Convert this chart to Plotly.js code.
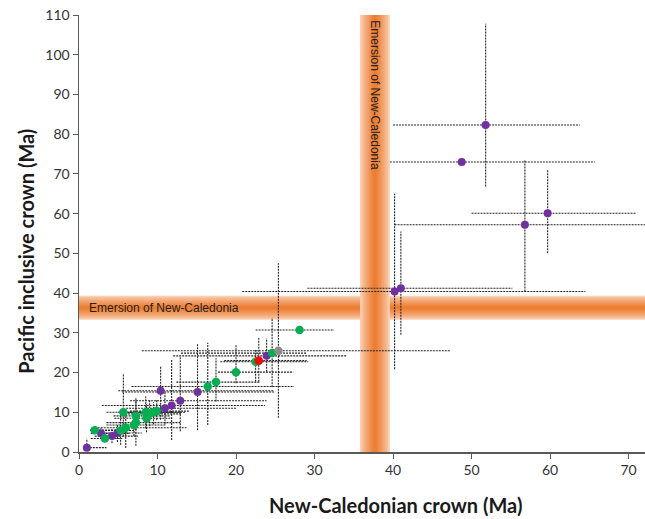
<!DOCTYPE html>
<html>
<head>
<meta charset="utf-8">
<script src="https://cdn.plot.ly/plotly-3.0.1.min.js"></script>
<style>html,body{margin:0;padding:0;background:#fff;}#chart{width:645px;height:519px;}</style>
</head>
<body>
<div id="chart"></div>
<script>
// ---- Data (ages in Ma) ----
const xTicks = [0, 10, 20, 30, 40, 50, 60, 70];
const yTicks = [0, 10, 20, 30, 40, 50, 60, 70, 80, 90, 100, 110];

const purpleX   = [1.0, 2.8, 4.2, 4.9, 10.4, 10.95, 11.8, 12.9, 15.1, 23.9, 40.2, 41.0, 48.75, 51.8, 56.8, 59.7];
const purpleY   = [1.1, 4.7, 4.0, 4.8, 15.4, 11.0, 11.7, 12.9, 15.1, 24.2, 40.4, 41.2, 73.0, 82.3, 57.2, 60.1];
const purpleXlo = [1.0, 1.5, 2.0, 2.5, 5.0, 6.0, 2.9, 6.5, 5.5, 12.0, 20.8, 29.1, 39.6, 40.0, 40.2, 50.0];
const purpleXhi = [3.5, 6.5, 7.5, 8.0, 24.8, 20.0, 23.7, 23.9, 25.0, 34.1, 64.5, 55.2, 65.7, 63.8, 72.5, 70.9];
const purpleYlo = [1.1, 3.5, 2.2, 2.5, 8.1, 7.0, 3.0, 5.2, 5.5, 20.2, 20.8, 29.5, null, 66.8, 40.4, 50.0];
const purpleYhi = [3.4, 6.0, 6.0, 7.0, 21.5, 15.0, 23.4, 24.0, 27.4, 28.6, 65.0, 55.5, null, 107.8, 73.5, 71.0];

const greenX   = [2.0, 3.3, 5.3, 5.65, 5.95, 7.0, 7.25, 7.25, 8.5, 8.6, 9.0, 9.5, 9.9, 16.4, 17.45, 20.0, 22.5, 24.6, 28.1];
const greenY   = [5.5, 3.4, 5.4, 10.0, 6.1, 6.8, 7.4, 9.1, 10.0, 8.5, 9.6, 10.0, 10.3, 16.5, 17.6, 20.1, 22.7, 24.9, 30.7];
const greenXlo = [1.4, 1.5, 1.4, 3.5, 2.0, 3.5, 3.5, 4.4, 5.0, 4.5, 5.5, 6.0, 6.5, 6.7, 12.4, 17.7, 18.0, 13.0, 22.5];
const greenXhi = [6.5, 5.5, 7.1, 12.9, 13.7, 11.0, 12.9, 11.6, 12.0, 11.8, 13.0, 13.5, 14.0, 27.4, 23.1, 27.3, 29.2, 29.0, 32.5];
const greenYlo = [4.5, 2.5, 1.8, 3.9, 1.0, 4.0, 1.6, 5.5, 6.0, 5.0, 6.5, 7.0, 8.0, 6.8, 12.7, 17.3, 17.7, 16.3, null];
const greenYhi = [6.5, 4.5, 10.5, 19.8, 9.0, 9.0, 13.1, 13.5, 14.0, 12.0, 13.0, 12.5, 13.0, 27.5, 23.6, 27.0, 25.7, 33.8, null];

const redX = [22.9], redY = [23.0], redXlo = [18.5], redXhi = [29.0], redYlo = [17.7], redYhi = [29.0];
const grayX = [25.4], grayY = [25.5], grayXlo = [8.0], grayXhi = [47.3], grayYlo = [8.6], grayYhi = [47.5];

// Emersion of New-Caledonia window
const emersionMa = [35.8, 39.6];     // on x
const emersionMaY = [33.3, 39.3];    // on y
const xMax = 72.1, yMax = 110, bandTop = 110.4;

// ---- build dotted error segments ----
const groups = [
  [purpleX, purpleY, purpleXlo, purpleXhi, purpleYlo, purpleYhi],
  [greenX, greenY, greenXlo, greenXhi, greenYlo, greenYhi],
  [redX, redY, redXlo, redXhi, redYlo, redYhi],
  [grayX, grayY, grayXlo, grayXhi, grayYlo, grayYhi]
];
const segX = [], segY = [];
groups.forEach(g => {
  const [X, Y, XL, XH, YL, YH] = g;
  for (let i = 0; i < X.length; i++) {
    if (XL[i] !== null && XH[i] !== null) { segX.push(XL[i], XH[i], null); segY.push(Y[i], Y[i], null); }
    if (YL[i] !== null && YH[i] !== null) { segX.push(X[i], X[i], null); segY.push(YL[i], YH[i], null); }
  }
});

const errTrace = {
  x: segX, y: segY, mode: 'lines', type: 'scatter', hoverinfo: 'skip', showlegend: false,
  line: {color: '#262626', width: 1.1, dash: '2px,1px'}
};
function pts(X, Y, c, s) {
  return {x: X, y: Y, mode: 'markers', type: 'scatter', showlegend: false,
    marker: {color: c, size: s, line: {width: 0}}};
}

// ---- gradient bands via stacked rects ----
const edge = [249, 208, 180], mid = [237, 125, 49];
const nSteps = 10;
const shades = [];
for (let k = 0; k < nSteps; k++) {
  const f = 1 - k / nSteps;               // relative half-width
  const t = Math.pow(k / (nSteps - 1), 0.8); // colour mix
  const c = edge.map((e, j) => Math.round(e + (mid[j] - e) * t));
  shades.push([f, 'rgb(' + c.join(',') + ')']);
}
const shapes = [];
shades.forEach(([f, c]) => {
  const m = (emersionMaY[0] + emersionMaY[1]) / 2, h = (emersionMaY[1] - emersionMaY[0]) / 2 * f;
  shapes.push({type: 'rect', xref: 'x', yref: 'y', x0: 0, x1: xMax, y0: m - h, y1: m + h,
    fillcolor: c, line: {width: 0}, layer: 'below'});
});
shades.forEach(([f, c]) => {
  const m = (emersionMa[0] + emersionMa[1]) / 2, w = (emersionMa[1] - emersionMa[0]) / 2 * f;
  shapes.push({type: 'rect', xref: 'x', yref: 'y', x0: m - w, x1: m + w, y0: 0, y1: bandTop,
    fillcolor: c, line: {width: 0}, layer: 'below'});
});

const font = '"Lato", "Open Sans", sans-serif';
const bandFont = {size: 12, family: 'Liberation Sans, Arial, sans-serif', color: '#222'};
const layout = {
  width: 645, height: 519,
  margin: {l: 79, r: 0, t: 15, b: 67},
  paper_bgcolor: '#ffffff', plot_bgcolor: '#ffffff',
  showlegend: false,
  font: {family: font, color: '#333'},
  xaxis: {
    range: [0, xMax], tickvals: xTicks, ticktext: xTicks.map(String),
    showgrid: false, zeroline: false, showline: true, linecolor: '#595959', linewidth: 1.5,
    ticks: 'outside', ticklen: 5, tickcolor: '#595959', tickwidth: 1,
    tickfont: {size: 14, family: font, color: '#333'}
  },
  yaxis: {
    range: [0, yMax], tickvals: yTicks, ticktext: yTicks.map(String),
    showgrid: false, zeroline: false, showline: true, linecolor: '#595959', linewidth: 1.5,
    ticks: 'outside', ticklen: 5, tickcolor: '#595959', tickwidth: 1,
    tickfont: {size: 14, family: font, color: '#333'}
  },
  shapes: shapes,
  annotations: [
    {x: 1.0, y: (emersionMaY[0] + emersionMaY[1]) / 2, xref: 'x', yref: 'y', xanchor: 'left', yanchor: 'middle',
     text: 'Emersion of New-Caledonia', showarrow: false, font: bandFont},
    {x: (emersionMa[0] + emersionMa[1]) / 2, y: 109.2, xref: 'x', yref: 'y', xanchor: 'center', yanchor: 'top',
     text: 'Emersion of New-Caledonia', showarrow: false, textangle: 90, font: bandFont},
    {x: 0.56, y: -0.121, xref: 'paper', yref: 'paper', xanchor: 'center', yanchor: 'middle',
     text: '<b>New-Caledonian crown (Ma)</b>', showarrow: false,
     font: {size: 20, family: font, color: '#1a1a1a'}},
    {x: -0.094, y: 0.46, xref: 'paper', yref: 'paper', xanchor: 'center', yanchor: 'middle',
     text: '<b>Pacific inclusive crown (Ma)</b>', showarrow: false, textangle: -90,
     font: {size: 20, family: font, color: '#1a1a1a'}}
  ]
};

Plotly.newPlot('chart', [
  errTrace,
  pts(purpleX, purpleY, '#7030A0', 8),
  pts(greenX, greenY, '#00B050', 8.5),
  pts(grayX, grayY, '#8C8C8C', 8.5),
  pts(redX, redY, '#FF0000', 8.5)
], layout, {displayModeBar: false, staticPlot: true});
</script>
</body>
</html>
